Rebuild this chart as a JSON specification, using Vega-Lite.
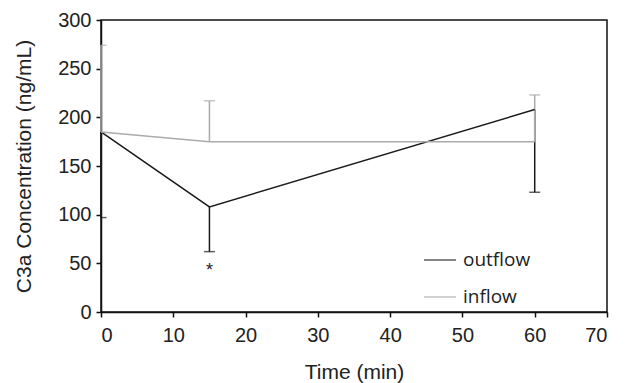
{
  "$schema": "https://vega.github.io/schema/vega-lite/v6.json",
  "autosize": "none",
  "width": 506,
  "height": 292,
  "padding": {"left": 101, "top": 20, "right": 19, "bottom": 71},
  "background": "white",
  "config": {
    "view": {"stroke": "#111", "strokeWidth": 1.5},
    "font": "Liberation Sans",
    "axis": {
      "grid": false,
      "domainColor": "#111",
      "domainWidth": 1.5,
      "tickColor": "#111",
      "tickWidth": 1.5,
      "tickSize": 5,
      "labelFont": "Liberation Sans",
      "labelFontSize": 20,
      "labelColor": "#222",
      "titleFont": "Liberation Sans",
      "titleFontSize": 21,
      "titleFontWeight": "normal",
      "titleColor": "#222",
      "zindex": 0
    }
  },
  "datasets": {
    "series": [
      {"series": "outflow", "time": 0, "value": 185, "err": 97},
      {"series": "outflow", "time": 15, "value": 108, "err": 62},
      {"series": "outflow", "time": 60, "value": 208, "err": 123},
      {"series": "inflow", "time": 0, "value": 185, "err": 274},
      {"series": "inflow", "time": 15, "value": 175, "err": 217},
      {"series": "inflow", "time": 60, "value": 175, "err": 223}
    ],
    "marks": [
      {"time": 15, "value": 42, "label": "*"}
    ]
  },
  "layer": [
    {
      "data": {"name": "series"},
      "mark": {"type": "rule", "strokeWidth": 1.5},
      "encoding": {
        "x": {"field": "time", "type": "quantitative"},
        "y": {"field": "value", "type": "quantitative"},
        "y2": {"field": "err"},
        "color": {"field": "series", "type": "nominal",
          "scale": {"domain": ["outflow", "inflow"], "range": ["#1a1a1a", "#ababab"]},
          "legend": {
            "title": null,
            "orient": "none",
            "legendX": 322,
            "legendY": 223,
            "padding": 0,
            "symbolType": "stroke",
            "symbolSize": 1024,
            "symbolStrokeWidth": 1.5,
            "labelFontSize": 19,
            "labelFont": "Open Sans",
            "labelColor": "#222",
            "labelOffset": 6,
            "rowPadding": 10
          }}
      }
    },
    {
      "data": {"name": "series"},
      "mark": {"type": "tick", "orient": "horizontal", "size": 11, "thickness": 1.5, "clip": true},
      "encoding": {
        "x": {"field": "time", "type": "quantitative"},
        "y": {"field": "err", "type": "quantitative"},
        "color": {"field": "series", "type": "nominal"}
      }
    },
    {
      "data": {"name": "series"},
      "mark": {"type": "line", "strokeWidth": 1.5},
      "encoding": {
        "x": {"field": "time", "type": "quantitative",
          "scale": {"domain": [0, 70]},
          "axis": {"title": "Time (min)", "values": [0,10,20,30,40,50,60,70], "titlePadding": 16, "labelPadding": 8}},
        "y": {"field": "value", "type": "quantitative",
          "scale": {"domain": [0, 300]},
          "axis": {"title": "C3a Concentration (ng/mL)", "values": [0,50,100,150,200,250,300], "titlePadding": 23, "labelPadding": 5}},
        "color": {"field": "series", "type": "nominal"}
      }
    },
    {
      "data": {"name": "marks"},
      "mark": {"type": "text", "fontSize": 18, "color": "#222", "font": "Liberation Sans"},
      "encoding": {
        "x": {"field": "time", "type": "quantitative"},
        "y": {"field": "value", "type": "quantitative"},
        "text": {"field": "label"}
      }
    }
  ]
}
